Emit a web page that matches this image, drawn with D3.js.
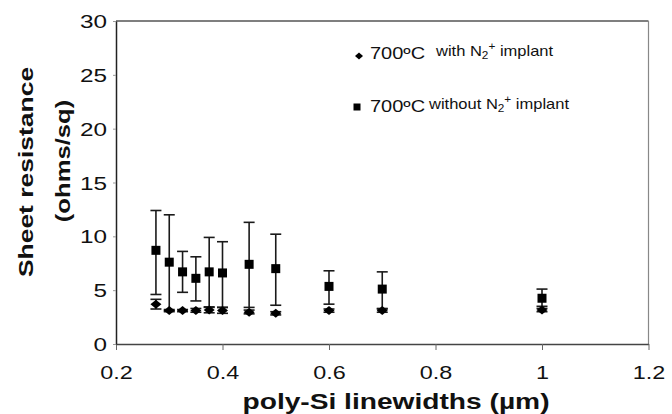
<!DOCTYPE html>
<html><head><meta charset="utf-8">
<script src="https://cdn.jsdelivr.net/npm/d3@7"></script>
<style>body{margin:0;background:#fff}svg{display:block}text{font-family:"Liberation Sans",Arial,sans-serif;fill:#111}</style>
</head><body><svg id="c" width="672" height="414"></svg>
<script>
const linewidths = [0.275, 0.3, 0.325, 0.35, 0.375, 0.4, 0.45, 0.5, 0.6, 0.7, 1.0];
const withN2 = [3.7, 3.1, 3.1, 3.1, 3.15, 3.1, 2.95, 2.85, 3.1, 3.1, 3.15];
const withN2Hi = [4.15, 3.2, 3.2, 3.3, 3.45, 3.4, 3.15, 3.0, 3.25, 3.25, 3.3];
const withN2Lo = [3.25, 3.0, 3.0, 2.95, 2.9, 2.85, 2.8, 2.7, 2.95, 2.95, 3.0];
const withoutN2 = [8.7, 7.6, 6.7, 6.1, 6.7, 6.6, 7.4, 7.0, 5.35, 5.1, 4.25];
const withoutN2Hi = [12.4, 12.0, 8.6, 8.1, 9.9, 9.5, 11.3, 10.2, 6.8, 6.7, 5.1];
const withoutN2Lo = [4.6, 3.1, 4.8, 4.0, 3.4, 3.4, 3.4, 3.6, 3.7, 3.3, 3.5];
const xTicks = [0.2, 0.4, 0.6, 0.8, 1.0, 1.2];
const yTicks = [0, 5, 10, 15, 20, 25, 30];
const xTitle = "poly-Si linewidths (\u00b5m)";
const yTitle = ["Sheet resistance", "(ohms/sq)"];

const svg = d3.select("#c");
const x = d3.scaleLinear().domain([0.2, 1.2]).range([116, 648.5]);
const y = d3.scaleLinear().domain([0, 30]).range([344, 21]);

svg.append("line").attr("x1", x(0.2)).attr("x2", x(1.2)).attr("y1", y(30)).attr("y2", y(30)).attr("stroke", "#555").attr("stroke-width", 1.5);
svg.append("line").attr("x1", x(1.2)).attr("x2", x(1.2)).attr("y1", y(30)).attr("y2", y(0)).attr("stroke", "#888").attr("stroke-width", 1.2);

const xa = svg.append("g").attr("transform", `translate(0,${y(0)})`)
  .call(d3.axisBottom(x).tickValues(xTicks).tickFormat(d => d === 1 ? "1" : d3.format(".1f")(d)).tickSize(6).tickSizeOuter(0));
xa.select(".domain").attr("stroke", "#444").attr("stroke-width", 1.6);
xa.selectAll(".tick line").attr("stroke", "#666");
xa.selectAll(".tick text").attr("y", 0).attr("dy", null).attr("font-size", 18).attr("fill", "#111")
  .attr("transform", "translate(0,35) scale(1.3,1)");

const ya = svg.append("g").attr("transform", `translate(${x(0.2)},0)`)
  .call(d3.axisLeft(y).tickValues(yTicks).tickSize(3).tickSizeOuter(0));
ya.select(".domain").attr("stroke", "#222").attr("stroke-width", 1.5);
ya.selectAll(".tick line").attr("stroke", "#999");
ya.selectAll(".tick text").attr("x", 0).attr("dy", null).attr("font-size", 18).attr("fill", "#111")
  .attr("transform", "translate(-9,6.5) scale(1.35,1)");

svg.append("text").attr("text-anchor", "middle").attr("font-weight", "bold").attr("font-size", 22)
  .attr("transform", `translate(396,409) scale(1.28,1)`).text(xTitle);
svg.append("text").attr("text-anchor", "middle").attr("font-weight", "bold").attr("font-size", 21)
  .attr("transform", `translate(33,172) rotate(-90) scale(1.26,1)`).text(yTitle[0]);
svg.append("text").attr("text-anchor", "middle").attr("font-weight", "bold").attr("font-size", 21)
  .attr("transform", `translate(70,161) rotate(-90) scale(1.22,1)`).text(yTitle[1]);

function errBars(lo, hi, color) {
  const g = svg.append("g").attr("stroke", color).attr("stroke-width", 1.6).attr("fill", "none");
  linewidths.forEach((lw, i) => {
    const cx = x(lw);
    g.append("line").attr("x1", cx).attr("x2", cx).attr("y1", y(lo[i])).attr("y2", y(hi[i]));
    g.append("line").attr("x1", cx - 5.5).attr("x2", cx + 5.5).attr("y1", y(lo[i])).attr("y2", y(lo[i]));
    g.append("line").attr("x1", cx - 5.5).attr("x2", cx + 5.5).attr("y1", y(hi[i])).attr("y2", y(hi[i]));
  });
}
errBars(withoutN2Lo, withoutN2Hi, "#1a1a1a");
errBars(withN2Lo, withN2Hi, "#1a1a1a");

const diamond = (w, h) => `M0,${-h}L${w},0L0,${h}L${-w},0Z`;
svg.append("g").selectAll("path").data(linewidths).join("path")
  .attr("d", diamond(5.5, 4.5)).attr("fill", "#000")
  .attr("transform", (d, i) => `translate(${x(d)},${y(withN2[i])})`);
svg.append("g").selectAll("rect").data(linewidths).join("rect")
  .attr("x", d => x(d) - 4.5).attr("y", (d, i) => y(withoutN2[i]) - 4.5)
  .attr("width", 9).attr("height", 9).attr("fill", "#000");

const leg = [
  {mark: "d", mx: 359, my: 56, tx: 370, ty: 58.5, sub: "with N", sx: 436, sy: 56},
  {mark: "s", mx: 357, my: 107, tx: 370, ty: 111.5, sub: "without N", sx: 429, sy: 109}
];
leg.forEach(l => {
  if (l.mark === "d") svg.append("path").attr("d", diamond(4, 3.6)).attr("transform", `translate(${l.mx},${l.my})`).attr("fill", "#000");
  else svg.append("rect").attr("x", l.mx - 3.5).attr("y", l.my - 3.5).attr("width", 7).attr("height", 7).attr("fill", "#000");
  svg.append("text").attr("font-size", 16).attr("transform", `translate(${l.tx},${l.ty}) scale(1.25,1)`).text("700\u00baC");
  const t = svg.append("text").attr("font-size", 14).attr("transform", `translate(${l.sx},${l.sy}) scale(1.18,1)`);
  t.append("tspan").text(l.sub);
  t.append("tspan").attr("font-size", 10).attr("dy", 3).text("2");
  t.append("tspan").attr("font-size", 10).attr("dy", -9).text("+");
  t.append("tspan").attr("dy", 6).text(" implant");
});
</script></body></html>
